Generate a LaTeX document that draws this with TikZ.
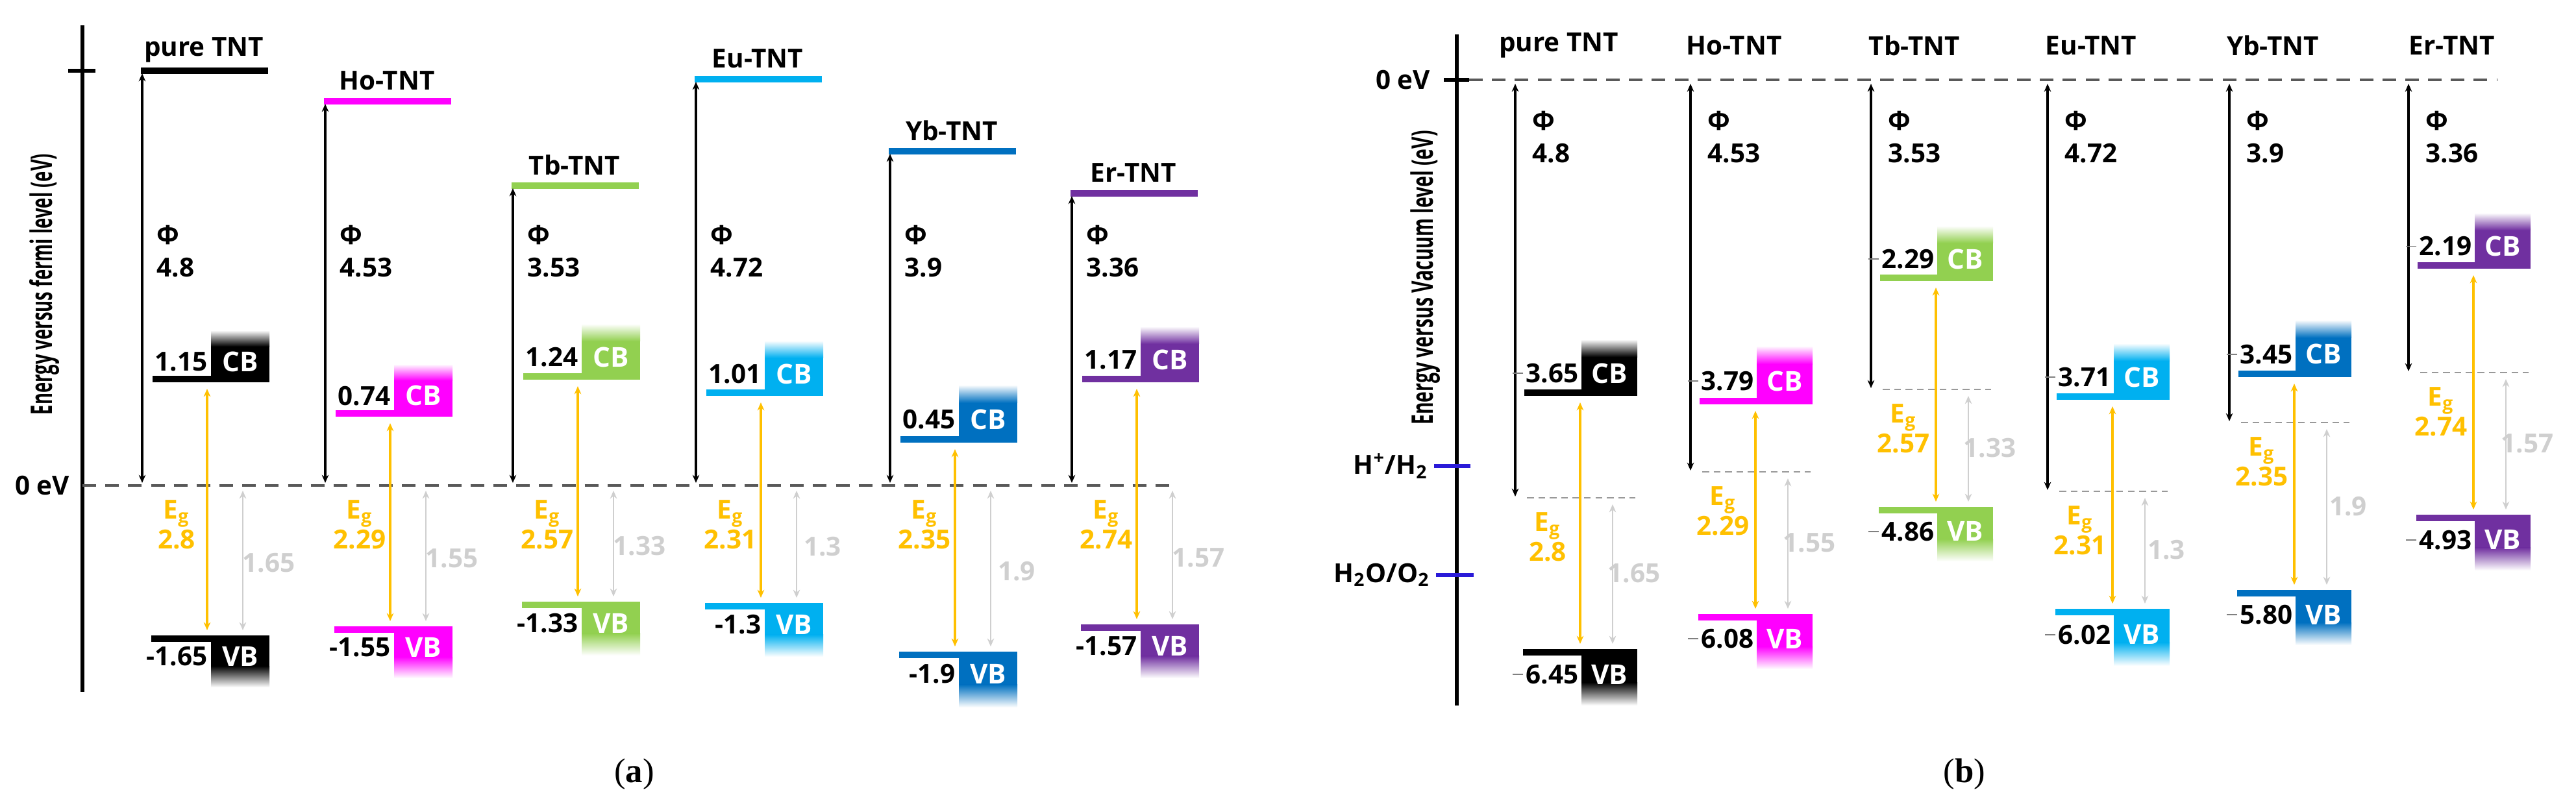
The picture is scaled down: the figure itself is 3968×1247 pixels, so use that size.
\documentclass[tikz,border=0pt]{standalone}
\usepackage{fontspec}
\setmainfont{Open Sans}
\newfontfamily\capfont{Liberation Serif}
\usetikzlibrary{arrows.meta,positioning}

\definecolor{hoC}{HTML}{FF00FF}
\definecolor{tbC}{HTML}{92D050}
\definecolor{euC}{HTML}{00B0F0}
\definecolor{ybC}{HTML}{0070C0}
\definecolor{erC}{HTML}{7030A0}
\definecolor{egC}{HTML}{FFC000}
\definecolor{lblC}{HTML}{CFCFCF}
\definecolor{redoxC}{HTML}{2A1AD8}

\tikzset{
  lvl/.style={line width=2.8pt},
  phiarrow/.style={{Stealth[length=3.5pt,width=3pt]}-{Stealth[length=3.5pt,width=3pt]}, line width=0.9pt},
  egarrow/.style={{Stealth[length=3.5pt,width=3pt]}-{Stealth[length=3.5pt,width=3pt]}, egC, line width=1.1pt},
  gaparrow/.style={{Stealth[length=3.5pt,width=3pt]}-{Stealth[length=3.5pt,width=3pt]}, lblC, line width=0.8pt},
  zero/.style={gray!70!black, line width=1.1pt, dash pattern=on 6pt off 4pt},
  fermi/.style={gray!80, line width=0.8pt, dash pattern=on 3pt off 2pt},
  title/.style={font=\fontsize{11.5}{13}\selectfont\bfseries},
  val/.style={font=\fontsize{11.5}{14.5}\selectfont\bfseries, inner sep=0pt},
  band/.style={font=\fontsize{12}{13}\selectfont\bfseries, text=white, inner sep=0pt},
  eg/.style={font=\fontsize{11.5}{12}\selectfont\bfseries, text=egC, align=center, inner sep=0pt},
  gap/.style={font=\fontsize{11.5}{13}\selectfont\bfseries, text=lblC, inner sep=0pt},
  axlbl/.style={font=\fontsize{13}{15}\selectfont\bfseries, rotate=90},
}

\begin{document}
\begin{tikzpicture}[x=0.01cm, y=-0.01cm]
    \useasboundingbox (0,0) rectangle (3968,1247);

    % ---------------- (a) Fermi level ----------------
    \draw[line width=1.8pt] (127,39) coordinate (ya1) -- (127,1066) coordinate (ya2);
    \draw[line width=1.8pt] (105,109) -- (147,109);
    \node[val] (zeroa) at (65,748) {0 eV};
    \draw[zero] (127,748) coordinate (za1) -- (1808,748) coordinate (za2);
    \node[axlbl] (axa) at (69,438) {\scalebox{0.6}[1]{Energy versus fermi level (eV)}};

    \foreach \id/\x/\tp/\cbt/\cbb/\vbt/\vbb/\col/\nm/\phi/\cb/\vb/\eg/\gp in {
        pu/219/109/509/589/979/1059/black/pure TNT/4.8/1.15/-1.65/2.8/1.65,
        ho/501/156/561/642/965/1045/hoC/Ho-TNT/4.53/0.74/-1.55/2.29/1.55,
        tb/790/286/499/585/927/1010/tbC/Tb-TNT/3.53/1.24/-1.33/2.57/1.33,
        eu/1072/122/525/610/929/1012/euC/Eu-TNT/4.72/1.01/-1.3/2.31/1.3,
        yb/1371/233/593/682/1004/1090/ybC/Yb-TNT/3.9/0.45/-1.9/2.35/1.9,
        er/1651/298/503/589/962/1045/erC/Er-TNT/3.36/1.17/-1.57/2.74/1.57}{
        % work function level
        \draw[lvl, \col] (\x-2,\tp) -- (\x+194,\tp);
        \node[title] (ta\id) at (\x+95,\tp-32) {\nm};
        \coordinate (pa\id) at (\x,\tp+4);
        \coordinate (qa\id) at (\x,744);
        \draw[phiarrow] (pa\id) -- (qa\id);
        \node[val, anchor=north west, align=left] (fa\id) at (\x+22,346) {Φ\\\phi};
        % conduction band
        \fill[\col] (\x+106,\cbt+0.3*\cbb-0.3*\cbt) rectangle (\x+196,\cbb);
        \shade[top color=white, bottom color=\col] (\x+106,\cbt) rectangle (\x+196,\cbt+0.3*\cbb-0.3*\cbt+1);
        \draw[lvl, \col] (\x+16,\cbb-5) -- (\x+106,\cbb-5);
        \node[band] (cba\id) at (\x+151,\cbt+0.6*\cbb-0.6*\cbt) {CB};
        \node[val, anchor=east] (cva\id) at (\x+101,\cbt+0.6*\cbb-0.6*\cbt) {\cb};
        % valence band
        \fill[\col] (\x+106,\vbt) rectangle (\x+196,\vbt+0.6*\vbb-0.6*\vbt);
        \shade[top color=\col, bottom color=white] (\x+106,\vbt+0.6*\vbb-0.6*\vbt-1) rectangle (\x+196,\vbb);
        \draw[lvl, \col] (\x+14,\vbt+5) -- (\x+106,\vbt+5);
        \node[band] (vba\id) at (\x+151,\vbt+0.4*\vbb-0.4*\vbt) {VB};
        \node[val, anchor=east] (vva\id) at (\x+101,\vbt+0.4*\vbb-0.4*\vbt) {\vb};
        % gaps
        \coordinate (ea\id) at (\x+100,\cbb+10);
        \coordinate (fa2\id) at (\x+100,\vbt-8);
        \draw[egarrow] (ea\id) -- (fa2\id);
        \node[eg] (ega\id) at (\x+53,808) {E\textsubscript{g}\\\eg};
        \coordinate (ga\id) at (\x+155,756);
        \coordinate (ha\id) at (\x+155,\vbt-8);
        \draw[gaparrow] (ga\id) -- (ha\id);
        \node[gap] (gpa\id) at (\x+195,756/2+\vbt/2) {\gp};
    }
    \node[font=\capfont\fontsize{15}{17}\selectfont] (capa) at (977,1193) {(\textbf{a})};

    % ---------------- (b) Vacuum level ----------------
    \draw[line width=1.8pt] (2244,53) coordinate (yb1) -- (2244,1087) coordinate (yb2);
    \draw[line width=1.8pt] (2224,123) -- (2263,123);
    \node[val] (zerob) at (2161,123) {0 eV};
    \draw[zero] (2263,123) coordinate (zb1) -- (3846,123) coordinate (zb2);
    \node[axlbl] (axb) at (2196,428) {\scalebox{0.62}[1]{Energy versus Vacuum level (eV)}};
    \draw[redoxC, line width=1.5pt] (2209,718) coordinate (hy1) -- (2265,718) coordinate (hy2);
    \draw[redoxC, line width=1.5pt] (2212,886) coordinate (ox1) -- (2270,886) coordinate (ox2);
    \node[val, anchor=east] (hyd) at (2200,718) {H\textsuperscript{+}/H\textsubscript{2}};
    \node[val, anchor=east] (oxy) at (2203,886) {H\textsubscript{2}O/O\textsubscript{2}};

    \foreach \id/\x/\ef/\cbt/\cbb/\vbt/\vbb/\col/\nm/\phi/\cb/\vb/\eg/\gp in {
        pu/2334/767/523/610/1000/1087/black/pure TNT/4.8/3.65/6.45/2.8/1.65,
        ho/2604/727/533/623/946/1031/hoC/Ho-TNT/4.53/3.79/6.08/2.29/1.55,
        tb/2882/600/348/433/781/865/tbC/Tb-TNT/3.53/2.29/4.86/2.57/1.33,
        eu/3154/757/529/616/938/1026/euC/Eu-TNT/4.72/3.71/6.02/2.31/1.3,
        yb/3434/651/493/581/909/994/ybC/Yb-TNT/3.9/3.45/5.80/2.35/1.9,
        er/3710/574/328/414/793/879/erC/Er-TNT/3.36/2.19/4.93/2.74/1.57}{
        \node[title] (tb\id) at (\x+67,70) {\nm};
        \coordinate (pb\id) at (\x,129);
        \coordinate (qb\id) at (\x,\ef-2);
        \draw[phiarrow] (pb\id) -- (qb\id);
        \draw[fermi] (\x+18,\ef) -- (\x+185,\ef);
        \node[val, anchor=north west, align=left] (fb\id) at (\x+26,170) {Φ\\\phi};
        % conduction band
        \fill[\col] (\x+102,\cbt+0.3*\cbb-0.3*\cbt) rectangle (\x+188,\cbb);
        \shade[top color=white, bottom color=\col] (\x+102,\cbt) rectangle (\x+188,\cbt+0.3*\cbb-0.3*\cbt+1);
        \draw[lvl, \col] (\x+14,\cbb-5) -- (\x+102,\cbb-5);
        \node[band] (cbb\id) at (\x+145,\cbt+0.6*\cbb-0.6*\cbt) {CB};
        \node[val, anchor=east] (cvb\id) at (\x+98,\cbt+0.6*\cbb-0.6*\cbt) {\cb};
        \draw[gray, line width=0.5pt] ([xshift=-1pt]cvb\id.west) -- ++(-16,0);
        % valence band
        \fill[\col] (\x+102,\vbt) rectangle (\x+188,\vbt+0.6*\vbb-0.6*\vbt);
        \shade[top color=\col, bottom color=white] (\x+102,\vbt+0.6*\vbb-0.6*\vbt-1) rectangle (\x+188,\vbb);
        \draw[lvl, \col] (\x+12,\vbt+5) -- (\x+102,\vbt+5);
        \node[band] (vbb\id) at (\x+145,\vbt+0.45*\vbb-0.45*\vbt) {VB};
        \node[val, anchor=east] (vvb\id) at (\x+98,\vbt+0.45*\vbb-0.45*\vbt) {\vb};
        \draw[gray, line width=0.5pt] ([xshift=-1pt]vvb\id.west) -- ++(-16,0);
        % gaps
        \coordinate (eb\id) at (\x+100,\cbb+10);
        \coordinate (fb2\id) at (\x+100,\vbt-8);
        \draw[egarrow] (eb\id) -- (fb2\id);
        \node[eg] (egb\id) at (\x+50,\ef+60) {E\textsubscript{g}\\\eg};
        \coordinate (gb\id) at (\x+150,\ef+10);
        \coordinate (hb\id) at (\x+150,\vbt-8);
        \draw[gaparrow] (gb\id) -- (hb\id);
        \node[gap] (gpb\id) at (\x+183,\ef/2+\vbt/2) {\gp};
    }
    \node[font=\capfont\fontsize{15}{17}\selectfont] (capb) at (3026,1193) {(\textbf{b})};
\end{tikzpicture}
\end{document}
